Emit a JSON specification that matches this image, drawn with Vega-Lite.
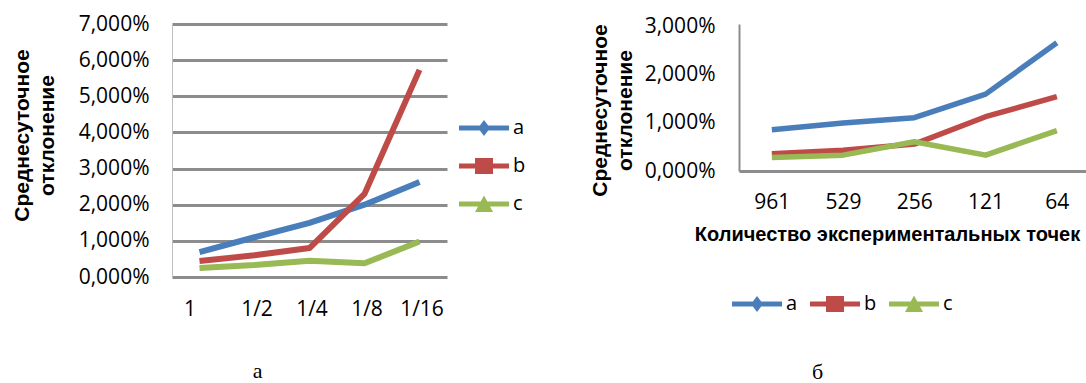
{
  "$schema": "https://vega.github.io/schema/vega-lite/v6.json",
  "autosize": {"type": "pad"},
  "padding": {"left": 11, "top": 13, "right": 0, "bottom": 0},
  "background": "white",
  "bounds": "flush",
  "spacing": 292,
  "datasets": {
    "left": [
      {"k": "1", "s": "a", "v": 0.69}, {"k": "1/2", "s": "a", "v": 1.10}, {"k": "1/4", "s": "a", "v": 1.50}, {"k": "1/8", "s": "a", "v": 2.00}, {"k": "1/16", "s": "a", "v": 2.63},
      {"k": "1", "s": "b", "v": 0.44}, {"k": "1/2", "s": "b", "v": 0.60}, {"k": "1/4", "s": "b", "v": 0.80}, {"k": "1/8", "s": "b", "v": 2.30}, {"k": "1/16", "s": "b", "v": 5.73},
      {"k": "1", "s": "c", "v": 0.25}, {"k": "1/2", "s": "c", "v": 0.33}, {"k": "1/4", "s": "c", "v": 0.45}, {"k": "1/8", "s": "c", "v": 0.38}, {"k": "1/16", "s": "c", "v": 0.98}
    ],
    "right": [
      {"k": "961", "s": "a", "v": 0.86}, {"k": "529", "s": "a", "v": 1.00}, {"k": "256", "s": "a", "v": 1.11}, {"k": "121", "s": "a", "v": 1.60}, {"k": "64", "s": "a", "v": 2.67},
      {"k": "961", "s": "b", "v": 0.36}, {"k": "529", "s": "b", "v": 0.43}, {"k": "256", "s": "b", "v": 0.56}, {"k": "121", "s": "b", "v": 1.13}, {"k": "64", "s": "b", "v": 1.55},
      {"k": "961", "s": "c", "v": 0.28}, {"k": "529", "s": "c", "v": 0.33}, {"k": "256", "s": "c", "v": 0.61}, {"k": "121", "s": "c", "v": 0.33}, {"k": "64", "s": "c", "v": 0.84}
    ]
  },
  "config": {
    "view": {"stroke": null},
    "font": "Open Sans",
    "axis": {
      "labelFont": "Open Sans", "labelFontSize": 21, "labelColor": "#000000",
      "ticks": false,
      "titleFont": "Liberation Sans", "titleFontWeight": "bold", "titleFontSize": 21, "titleColor": "#000000"
    },
    "legend": {
      "title": null, "orient": "none", "padding": 0,
      "symbolSize": 576, "labelOffset": 30,
      "labelFont": "Open Sans", "labelFontSize": 20, "labelColor": "#000000", "labelBaseline": "middle"
    },
    "title": {"font": "Liberation Serif", "fontSize": 22, "fontWeight": "normal", "color": "#000000"}
  },
  "resolve": {"scale": {"color": "independent"}, "legend": {"color": "independent"}},
  "hconcat": [
    {
      "width": 275,
      "height": 253,
      "data": {"name": "left"},
      "title": {"text": "а", "orient": "bottom", "anchor": "middle", "frame": "group", "baseline": "alphabetic", "offset": 59, "dx": -52},
      "mark": {"type": "line", "strokeWidth": 6, "strokeJoin": "round"},
      "encoding": {
        "x": {
          "field": "k", "type": "ordinal", "sort": ["1", "1/2", "1/4", "1/8", "1/16"],
          "scale": {"type": "point", "padding": 0.5},
          "axis": {
            "title": null, "labelAngle": 0, "domain": false,
            "labelBaseline": "alphabetic", "labelPadding": 38,
            "labelOffset": {"condition": {"test": "datum.value === '1'", "value": -10}, "value": 2}
          }
        },
        "y": {
          "field": "v", "type": "quantitative",
          "scale": {"domain": [0, 7], "nice": false},
          "axis": {
            "values": [0, 1, 2, 3, 4, 5, 6, 7],
            "labelExpr": "replace(format(datum.value, '.3f'), '.', ',') + '%'",
            "labelPadding": 23,
            "title": ["Среднесуточное", "отклонение"],
            "titleX": -144, "titleY": 111, "titleBaseline": "alphabetic", "titleAlign": "center", "titleLineHeight": 25,
            "grid": true, "gridColor": "#8c8c8c", "gridWidth": 3,
            "domain": true, "domainColor": "#bfbfbf", "domainWidth": 1
          }
        },
        "color": {
          "field": "s", "type": "nominal",
          "scale": {"domain": ["a", "b", "c"], "range": ["#4A7EBB", "#BE4B48", "#98B954"]},
          "legend": {
            "direction": "vertical", "legendX": 287, "legendY": 92, "rowPadding": 16,
            "encode": {
              "symbols": {
                "update": {
                  "shape": {"signal": "datum.value === 'a' ? 'M-1,-0.21L3.17,-0.21L3.17,0.21L-1,0.21ZM1.085,-0.67L1.585,0L1.085,0.67L0.585,0Z' : datum.value === 'b' ? 'M-1,-0.21L3.17,-0.21L3.17,0.21L-1,0.21ZM0.335,-0.67L1.835,-0.67L1.835,0.67L0.335,0.67Z' : 'M-1,-0.21L3.17,-0.21L3.17,0.21L-1,0.21ZM1.085,-0.7L1.835,0.67L0.335,0.67Z'"},
                  "fill": {"signal": "datum.value === 'a' ? '#4A7EBB' : datum.value === 'b' ? '#BE4B48' : '#98B954'"},
                  "stroke": {"value": "transparent"},
                  "strokeWidth": {"value": 0},
                  "opacity": {"value": 1}
                }
              }
            }
          }
        }
      }
    },
    {
      "width": 347,
      "height": 147,
      "data": {"name": "right"},
      "title": {"text": "б", "orient": "bottom", "anchor": "middle", "frame": "group", "baseline": "alphabetic", "offset": 65, "dx": -95},
      "mark": {"type": "line", "strokeWidth": 5.5, "strokeJoin": "round"},
      "encoding": {
        "x": {
          "field": "k", "type": "ordinal", "sort": ["961", "529", "256", "121", "64"],
          "scale": {"type": "point", "padding": 0.435, "align": 0.53},
          "axis": {
            "title": "Количество экспериментальных точек",
            "titleX": 148, "titleY": 69, "titleBaseline": "alphabetic", "titleAlign": "center", "titleAnchor": "middle",
            "titleFontSize": 20,
            "labelAngle": 0, "labelBaseline": "alphabetic", "labelPadding": 37,
            "domain": true, "domainColor": "#8c8c8c", "domainWidth": 3
          }
        },
        "y": {
          "field": "v", "type": "quantitative",
          "scale": {"domain": [0, 3.06], "nice": false},
          "axis": {
            "values": [0, 1, 2, 3],
            "labelExpr": "replace(format(datum.value, '.3f'), '.', ',') + '%'",
            "labelPadding": 24,
            "title": ["Среднесуточное", "отклонение"],
            "titleX": -133, "titleY": 86, "titleBaseline": "alphabetic", "titleAlign": "center", "titleLineHeight": 25,
            "grid": false,
            "domain": true, "domainColor": "#8c8c8c", "domainWidth": 2
          }
        },
        "color": {
          "field": "s", "type": "nominal",
          "scale": {"domain": ["a", "b", "c"], "range": ["#4A7EBB", "#BE4B48", "#98B954"]},
          "legend": {
            "direction": "horizontal", "legendX": -7, "legendY": 268, "columnPadding": 12,
            "encode": {
              "symbols": {
                "update": {
                  "shape": {"signal": "datum.value === 'a' ? 'M-1,-0.21L3.17,-0.21L3.17,0.21L-1,0.21ZM1.085,-0.67L1.585,0L1.085,0.67L0.585,0Z' : datum.value === 'b' ? 'M-1,-0.21L3.17,-0.21L3.17,0.21L-1,0.21ZM0.335,-0.67L1.835,-0.67L1.835,0.67L0.335,0.67Z' : 'M-1,-0.21L3.17,-0.21L3.17,0.21L-1,0.21ZM1.085,-0.7L1.835,0.67L0.335,0.67Z'"},
                  "fill": {"signal": "datum.value === 'a' ? '#4A7EBB' : datum.value === 'b' ? '#BE4B48' : '#98B954'"},
                  "stroke": {"value": "transparent"},
                  "strokeWidth": {"value": 0},
                  "opacity": {"value": 1}
                }
              }
            }
          }
        }
      }
    }
  ]
}
